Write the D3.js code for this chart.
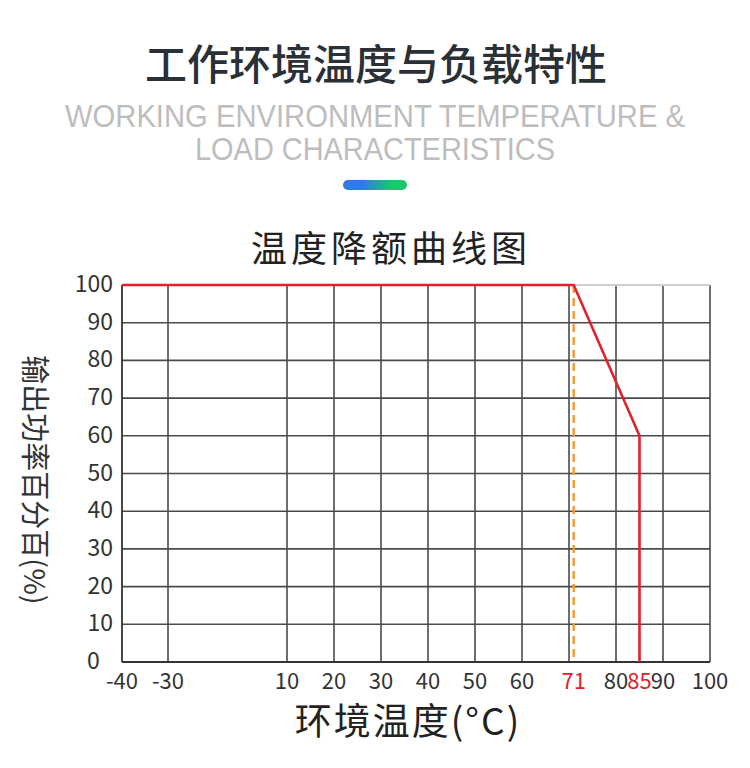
<!DOCTYPE html>
<html>
<head>
<meta charset="utf-8">
<script src="https://cdn.jsdelivr.net/npm/d3@7"></script>
<style>
  body { margin: 0; background: #fff; }
  svg { display: block; }
</style>
</head>
<body>
<script>
// derating curve: temperature (°C) vs output power (%)
const curveTemps = [-40, 71, 85, 85]
const curvePower = [100, 100, 60, 0]
const limitTemp = 71

const xTicks = [-40, -30, 10, 20, 30, 40, 50, 60, 71, 80, 85, 90, 100]
const redTicks = [71, 85]
const xGrid = [-30, 10, 20, 30, 40, 50, 60, 70, 80, 90, 100]
const yTicks = [0, 10, 20, 30, 40, 50, 60, 70, 80, 90, 100]

const width = 750
const height = 768
const cjk = '"Noto Sans CJK SC", "Noto Sans", sans-serif'

const svg = d3.select('body')
	.append('svg')
	.attr('width', width)
	.attr('height', height)

// header
svg.append('text')
	.attr('x', 376).attr('y', 80)
	.attr('text-anchor', 'middle')
	.attr('font-family', cjk)
	.attr('font-size', 42)
	.attr('font-weight', 500)
	.attr('fill', '#2b2f36')
	.text('工作环境温度与负载特性')

svg.append('text')
	.attr('x', 375).attr('y', 127)
	.attr('text-anchor', 'middle')
	.attr('font-family', '"Liberation Sans", Arial, sans-serif')
	.attr('font-size', 32)
	.attr('fill', '#bdbdbd')
	.attr('textLength', 620)
	.attr('lengthAdjust', 'spacingAndGlyphs')
	.text('WORKING ENVIRONMENT TEMPERATURE &')

svg.append('text')
	.attr('x', 375).attr('y', 160)
	.attr('text-anchor', 'middle')
	.attr('font-family', '"Liberation Sans", Arial, sans-serif')
	.attr('font-size', 32)
	.attr('fill', '#bdbdbd')
	.attr('textLength', 360)
	.attr('lengthAdjust', 'spacingAndGlyphs')
	.text('LOAD CHARACTERISTICS')

const grad = svg.append('defs').append('linearGradient')
	.attr('id', 'pill')
grad.append('stop').attr('offset', '30%').attr('stop-color', '#2f7be6')
grad.append('stop').attr('offset', '75%').attr('stop-color', '#22c46a')

svg.append('rect')
	.attr('x', 343).attr('y', 180)
	.attr('width', 64).attr('height', 10)
	.attr('rx', 5)
	.attr('fill', 'url(#pill)')

svg.append('text')
	.attr('x', 391).attr('y', 262)
	.attr('text-anchor', 'middle')
	.attr('font-family', cjk)
	.attr('font-size', 36)
	.attr('letter-spacing', 4)
	.attr('fill', '#222')
	.text('温度降额曲线图')

// scales: x axis is squeezed between -30 and 10
const x = d3.scaleLinear()
	.domain([-40, -30, 10, 100])
	.range([122, 168, 287, 710])

const y = d3.scaleLinear()
	.domain([0, 100])
	.range([662, 285])

const grid = svg.append('g')

grid.selectAll('line.v')
	.data(xGrid)
	.enter()
	.append('line')
	.attr('x1', d => x(d)).attr('x2', d => x(d))
	.attr('y1', y(0)).attr('y2', y(100))
	.attr('stroke', '#4a4a4a')
	.attr('stroke-width', 1.6)

grid.selectAll('line.h')
	.data(yTicks.filter(d => d > 0 && d < 100))
	.enter()
	.append('line')
	.attr('x1', x(-40)).attr('x2', x(100))
	.attr('y1', d => y(d)).attr('y2', d => y(d))
	.attr('stroke', '#4a4a4a')
	.attr('stroke-width', 1.6)

// top border is light grey, left/bottom axes dark
grid.append('line')
	.attr('x1', x(-40)).attr('x2', x(100))
	.attr('y1', y(100)).attr('y2', y(100))
	.attr('stroke', '#cfcfcf')
	.attr('stroke-width', 2)

grid.append('line')
	.attr('x1', x(-40)).attr('x2', x(-40))
	.attr('y1', y(0)).attr('y2', y(100))
	.attr('stroke', '#333')
	.attr('stroke-width', 1.8)

grid.append('line')
	.attr('x1', x(-40)).attr('x2', x(100))
	.attr('y1', y(0)).attr('y2', y(0))
	.attr('stroke', '#333')
	.attr('stroke-width', 1.8)

// limit line at 71°C
svg.append('line')
	.attr('x1', x(limitTemp)).attr('x2', x(limitTemp))
	.attr('y1', y(100)).attr('y2', y(0))
	.attr('stroke', '#f39a2c')
	.attr('stroke-width', 2.4)
	.attr('stroke-dasharray', '8,5')

// derating curve
const line = d3.line()
	.x(d => x(d[0]))
	.y(d => y(d[1]))

svg.append('path')
	.datum(d3.zip(curveTemps, curvePower))
	.attr('d', line)
	.attr('fill', 'none')
	.attr('stroke', '#e3202b')
	.attr('stroke-width', 2.6)

// tick labels (the single digit sits one digit further left, as in the original)
svg.selectAll('text.ylab')
	.data(yTicks)
	.enter()
	.append('text')
	.attr('x', 113)
	.attr('dx', d => d < 10 ? '-0.57em' : 0)
	.attr('y', d => y(d) + 7)
	.attr('text-anchor', 'end')
	.attr('font-family', cjk)
	.attr('font-size', 23)
	.attr('fill', '#333')
	.text(d => d)

svg.selectAll('text.xlab')
	.data(xTicks)
	.enter()
	.append('text')
	.attr('x', d => x(d))
	.attr('y', 689)
	.attr('text-anchor', 'middle')
	.attr('font-family', cjk)
	.attr('font-size', 22)
	.attr('fill', d => redTicks.includes(d) ? '#e3202b' : '#333')
	.text(d => d)

// axis titles
svg.append('text')
	.attr('x', 408).attr('y', 735)
	.attr('text-anchor', 'middle')
	.attr('font-family', cjk)
	.attr('font-size', 37)
	.attr('letter-spacing', 2)
	.attr('fill', '#222')
	.text('环境温度(°C)')

svg.append('text')
	.attr('transform', 'translate(24,480) rotate(90)')
	.attr('text-anchor', 'middle')
	.attr('font-family', cjk)
	.attr('font-size', 29)
	.attr('fill', '#333')
	.text('输出功率百分百(%)')
</script>
</body>
</html>
